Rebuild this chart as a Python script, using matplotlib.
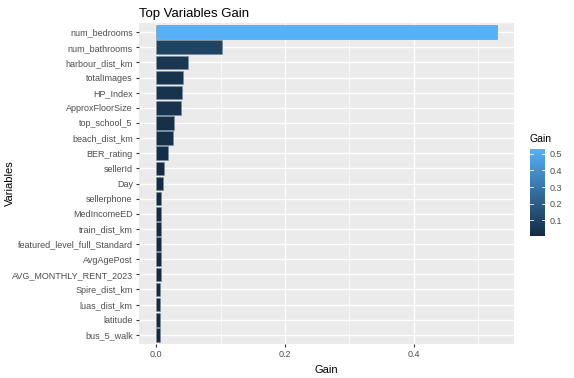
import matplotlib.pyplot as plt
import matplotlib as mpl
from matplotlib.colors import LinearSegmentedColormap, Normalize

variables = ["num_bedrooms", "num_bathrooms", "harbour_dist_km", "totalImages", "HP_Index",
             "ApproxFloorSize", "top_school_5", "beach_dist_km", "BER_rating", "sellerId",
             "Day", "sellerphone", "MedIncomeED", "train_dist_km", "featured_level_full_Standard",
             "AvgAgePost", "AVG_MONTHLY_RENT_2023", "Spire_dist_km", "luas_dist_km", "latitude",
             "bus_5_walk"]
gain = [0.529, 0.102, 0.050, 0.042, 0.040, 0.038, 0.028, 0.027, 0.019, 0.013,
        0.010, 0.008, 0.008, 0.007, 0.007, 0.007, 0.007, 0.006, 0.006, 0.006, 0.006]

plt.rcParams['font.family'] = ['Liberation Sans', 'DejaVu Sans']

cmap = LinearSegmentedColormap.from_list("gg", ["#132B43", "#56B1F7"])
norm = Normalize(vmin=min(gain), vmax=max(gain))

fig = plt.figure(figsize=(5.74, 3.78), dpi=100)
ax = fig.add_axes([139/574, 1 - 344/378, (514 - 139)/574, (344 - 23)/378])
ax.set_facecolor("#EBEBEB")

pos = list(range(len(variables)))[::-1]
ax.barh(pos, gain, height=0.9, color=[cmap(norm(g)) for g in gain],
        edgecolor="#7a8a9a", linewidth=0.4, zorder=3)

ax.set_xlim(-0.0265, 0.5555)
ax.set_ylim(-0.6, len(variables) - 0.4)
ax.set_xticks([0.0, 0.2, 0.4])
ax.set_xticklabels(["0.0", "0.2", "0.4"])
ax.set_xticks([0.1, 0.3, 0.5], minor=True)
ax.set_yticks(pos)
ax.set_yticklabels(variables)
ax.grid(which="major", color="white", linewidth=1.0, zorder=1)
ax.grid(which="minor", axis="x", color="white", linewidth=0.5, zorder=1)
ax.tick_params(which="major", length=2.5, color="#333333", labelsize=6.5, labelcolor="#4D4D4D", pad=2)
ax.tick_params(which="minor", length=0)
for s in ax.spines.values():
    s.set_visible(False)

ax.set_xlabel("Gain", fontsize=8, labelpad=4)
ax.set_ylabel("Variables", fontsize=8)
ax.yaxis.set_label_coords((15 - 139) / 375, 0.5)
ax.set_title("Top Variables Gain", fontsize=9.5, loc="left", pad=4)

cax = fig.add_axes([530/574, 1 - 236/378, 15/574, 87/378])
cb = mpl.colorbar.ColorbarBase(cax, cmap=cmap, norm=norm)
cb.outline.set_visible(False)
cb.set_ticks([0.1, 0.2, 0.3, 0.4, 0.5])
cax.tick_params(length=0, labelsize=6.5, labelcolor="#4D4D4D", pad=3)
for t in [0.1, 0.2, 0.3, 0.4, 0.5]:
    cax.plot([0, 0.2], [t, t], color="white", lw=0.6, transform=cax.get_yaxis_transform())
    cax.plot([0.8, 1.0], [t, t], color="white", lw=0.6, transform=cax.get_yaxis_transform())
cax.set_title("Gain", fontsize=7.5, loc="left", pad=5)

fig.savefig("out.png", dpi=100)
